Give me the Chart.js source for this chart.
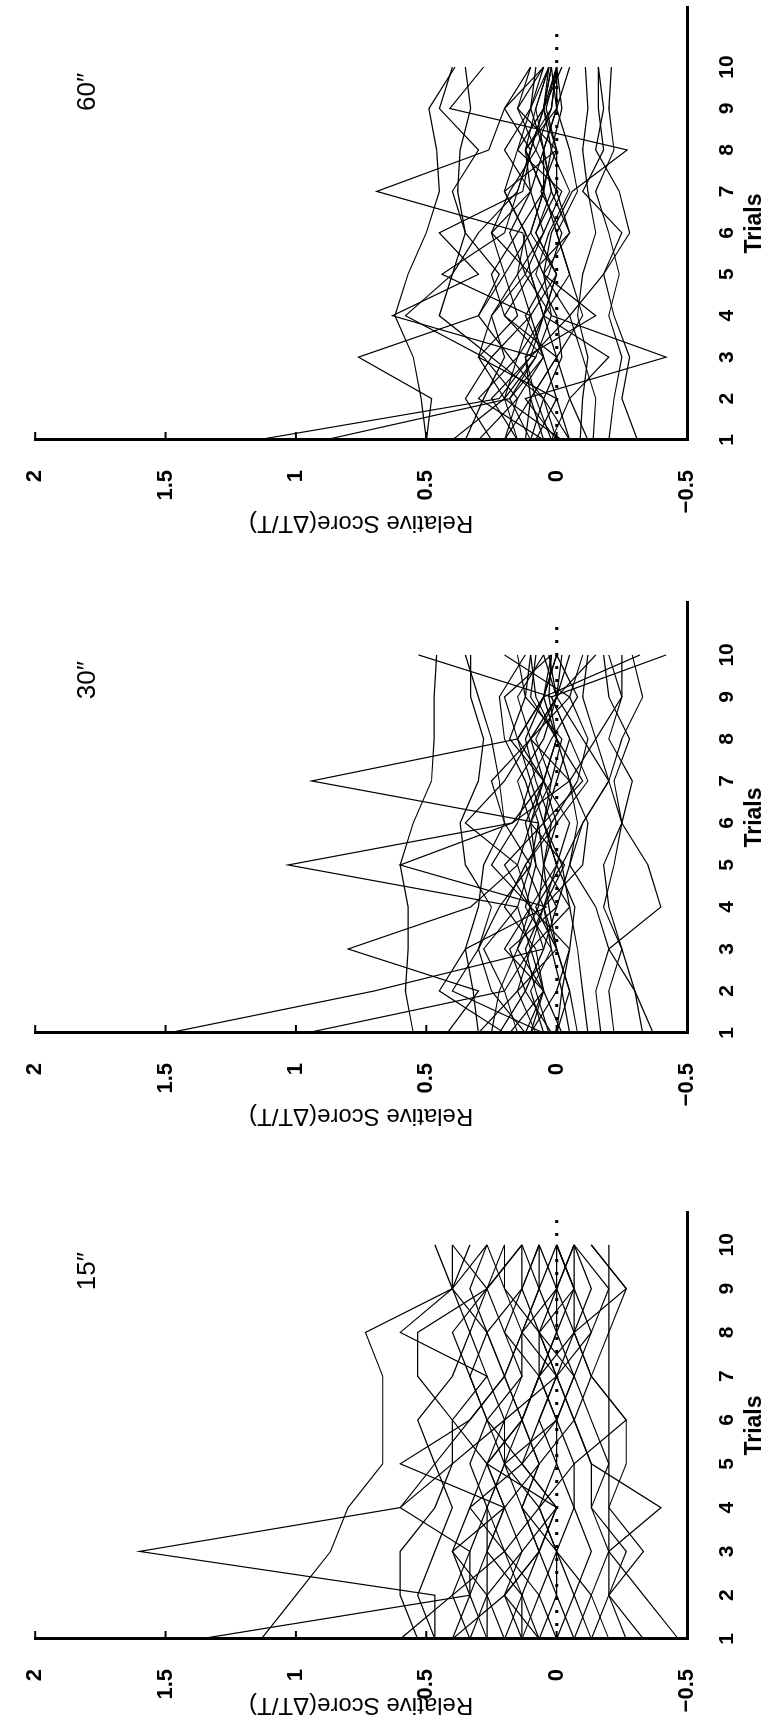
<!DOCTYPE html>
<html><head><meta charset="utf-8">
<script src="https://cdn.jsdelivr.net/npm/chart.js@4.4.1/dist/chart.umd.min.js"></script>
<style>
html,body{margin:0;padding:0;background:#fff;width:768px;height:1727px;overflow:hidden;}
#land{position:absolute;left:0;top:0;width:1727px;height:768px;transform-origin:0 0;transform:translate(0px,1727px) rotate(-90deg);background:#fff;}
#land canvas{position:absolute;top:0;}
</style></head><body>
<div id="land">
<canvas id="c15"></canvas><canvas id="c30"></canvas><canvas id="c60"></canvas>
</div>
<script>
// ---- data ----
const trials = [1,2,3,4,5,6,7,8,9,10];
const trialTicks = [1,2,3,4,5,6,7,8,9,10];
const scoreTicks = [-0.5,0,0.5,1,1.5,2];
const zeroLineTrials = [1,10.9];
const labelPos = [9.4,1.8];
const xTitle = 'Trials';
const yTitle = 'Relative Score(ΔT/T)';

const scores15 = [
 [0.467,0.467,1.6,0.6,0.467,0.333,0.2,0.133,0.067,0.0],
 [1.133,1.0,0.867,0.8,0.667,0.667,0.667,0.733,0.4,0.4],
 [1.37,0.333,0.267,0.2,0.267,0.133,0.067,0.0,-0.067,0.0],
 [0.6,0.4,0.333,0.6,0.4,0.2,0.0,0.067,0.2,0.267],
 [0.4,0.2,0.067,0.0,0.267,0.4,0.533,0.533,0.267,0.133],
 [0.333,0.267,0.133,0.2,0.6,0.333,0.2,0.267,0.4,0.467],
 [0.267,0.267,0.267,0.267,0.2,0.2,0.133,0.133,0.2,0.2],
 [0.2,0.133,0.2,0.333,0.133,0.067,0.0,0.133,0.0,-0.067],
 [0.133,0.133,0.067,0.133,0.067,0.133,0.067,0.0,0.067,0.067],
 [0.067,0.0,0.067,0.0,0.133,0.0,0.067,0.067,0.133,0.133],
 [0.0,0.067,0.0,0.067,0.0,0.067,0.0,0.067,0.0,0.0],
 [-0.067,0.0,0.0,-0.067,0.0,0.0,-0.067,0.0,0.0,0.067],
 [-0.2,-0.133,-0.2,-0.4,-0.133,-0.067,0.0,-0.133,-0.067,-0.067],
 [-0.267,-0.2,-0.2,-0.2,-0.267,-0.267,-0.133,-0.2,-0.267,-0.133],
 [-0.333,-0.2,-0.333,-0.2,-0.2,-0.2,-0.2,-0.2,-0.2,-0.2],
 [-0.467,-0.333,-0.2,-0.133,-0.133,-0.067,-0.133,-0.067,-0.067,0.0],
 [0.533,0.6,0.6,0.467,0.4,0.4,0.267,0.6,0.4,0.267],
 [0.4,0.333,0.333,0.267,0.333,0.267,0.333,0.4,0.267,0.4],
 [0.067,0.2,0.133,0.0,0.133,0.267,0.133,0.2,0.267,0.133],
 [0.133,0.067,0.2,0.067,0.2,0.0,-0.067,0.067,-0.067,0.0],
 [0.0,-0.067,0.0,0.133,0.067,-0.067,0.0,-0.067,0.0,-0.067],
 [0.2,0.267,0.4,0.2,0.267,0.133,0.2,0.267,0.133,0.067],
 [-0.133,-0.067,-0.133,-0.067,-0.067,-0.267,-0.133,-0.067,-0.267,-0.133],
 [0.333,0.4,0.2,0.267,0.2,0.267,0.333,0.267,0.333,0.267],
 [0.267,0.333,0.4,0.333,0.267,0.2,0.267,0.333,0.267,0.2],
 [-0.133,-0.2,-0.267,-0.133,-0.2,-0.133,-0.067,-0.133,-0.2,-0.067],
 [0.133,0.2,0.067,0.133,0.2,0.133,0.2,0.133,0.067,0.133],
 [0.467,0.533,0.467,0.4,0.467,0.533,0.4,0.333,0.4,0.333],
 [-0.067,-0.133,0.0,0.067,-0.067,0.0,0.067,-0.067,-0.133,-0.067],
 [0.067,0.133,0.267,0.2,0.067,0.133,0.067,0.2,0.133,0.067]
];

const scores30 = [
 [1.49,0.70,0.05,0.10,0.00,0.05,0.02,0.08,0.00,-0.05],
 [0.96,0.20,0.10,0.05,0.12,0.00,0.05,0.00,0.03,0.02],
 [0.42,0.30,0.80,0.33,0.15,0.10,0.05,0.15,0.05,0.00],
 [0.30,0.15,0.10,0.15,1.03,0.17,0.05,0.00,0.08,0.10],
 [0.20,0.45,0.35,0.04,0.60,0.17,-0.05,0.10,0.00,0.05],
 [0.10,0.05,0.15,0.07,0.05,0.07,0.94,0.15,0.05,0.02],
 [0.55,0.58,0.57,0.57,0.60,0.55,0.48,0.47,0.47,0.46],
 [0.05,0.40,0.30,0.25,0.35,0.37,0.30,0.28,0.33,0.33],
 [-0.17,-0.15,-0.20,-0.15,-0.05,-0.10,-0.20,-0.15,-0.10,-0.12],
 [-0.33,-0.30,-0.20,-0.40,-0.35,-0.25,-0.20,-0.25,-0.33,-0.29],
 [-0.37,-0.30,-0.25,-0.20,-0.18,-0.25,-0.29,-0.20,-0.25,-0.25],
 [0.00,-0.05,0.00,0.08,-0.02,0.05,-0.10,0.00,0.05,-0.32],
 [0.10,0.00,-0.05,0.10,0.20,0.05,0.00,-0.05,0.02,0.53],
 [0.15,0.20,0.28,0.15,0.10,0.20,0.25,0.10,0.15,0.05],
 [0.22,0.12,0.05,0.00,-0.05,-0.08,-0.05,-0.15,-0.25,-0.20],
 [0.05,0.10,0.02,0.12,0.08,0.12,0.05,0.18,0.12,0.10],
 [0.25,0.22,0.15,0.10,0.15,0.35,0.20,0.10,-0.05,0.20],
 [0.00,-0.02,-0.05,-0.07,0.00,0.05,0.10,0.02,-0.08,0.00],
 [-0.02,0.05,0.10,-0.05,0.05,0.00,-0.12,-0.05,0.02,-0.42],
 [0.08,0.15,0.00,0.05,0.00,-0.05,0.05,0.10,0.00,-0.02],
 [-0.05,-0.02,0.02,0.05,-0.10,-0.12,-0.05,0.00,0.10,0.08],
 [0.18,0.05,0.20,0.10,0.25,0.15,0.10,0.15,0.20,0.02],
 [-0.12,-0.10,-0.08,-0.05,-0.02,-0.10,-0.20,-0.10,0.00,-0.15],
 [0.12,0.25,0.30,0.22,0.10,0.07,0.12,0.20,0.22,0.12],
 [0.30,0.32,0.35,0.30,0.28,0.20,0.22,0.25,0.30,0.35],
 [-0.08,-0.05,0.00,0.03,0.05,0.02,-0.08,-0.12,-0.05,-0.10],
 [0.03,0.08,0.12,0.05,-0.03,0.10,0.15,0.05,0.00,0.03],
 [0.12,0.05,0.08,0.20,0.12,0.02,0.08,0.12,0.05,0.00],
 [-0.22,-0.20,-0.25,-0.18,-0.22,-0.25,-0.22,-0.28,-0.20,-0.18],
 [0.02,0.12,0.18,0.00,0.08,0.10,0.02,-0.02,0.12,0.15]
];

const scores60 = [
 [1.15,0.22,0.10,0.05,0.00,0.08,0.02,0.05,0.00,0.02],
 [0.89,0.18,0.05,0.12,0.03,-0.02,0.06,0.00,0.04,0.00],
 [0.50,0.52,0.55,0.62,0.57,0.50,0.45,0.46,0.49,0.39],
 [0.50,0.48,0.76,0.30,0.20,0.10,0.05,0.12,0.02,0.00],
 [0.40,0.20,0.08,0.63,0.30,0.45,0.13,0.10,0.05,0.02],
 [0.30,0.15,0.28,0.58,0.40,0.30,0.15,0.10,0.05,0.03],
 [0.20,0.10,0.00,0.05,0.10,0.13,0.69,0.26,0.20,0.05],
 [0.15,0.25,0.10,-0.05,0.05,0.02,-0.06,-0.27,0.41,0.28],
 [0.10,0.05,0.18,0.30,0.22,0.35,0.38,0.37,0.33,0.35],
 [0.05,0.30,0.15,0.10,0.44,0.20,0.15,0.10,0.20,0.10],
 [0.02,-0.05,-0.20,0.05,0.00,0.10,0.05,0.02,-0.02,0.00],
 [0.00,0.12,-0.42,0.02,0.05,-0.05,0.00,0.08,0.02,0.00],
 [-0.05,0.00,0.05,0.10,0.15,0.05,-0.02,0.15,0.05,0.02],
 [-0.09,-0.10,-0.12,-0.08,-0.10,-0.15,-0.12,-0.10,-0.12,-0.11],
 [-0.14,-0.15,-0.10,-0.05,-0.18,-0.25,-0.10,-0.18,-0.16,-0.16],
 [-0.20,-0.22,-0.25,-0.20,-0.24,-0.20,-0.15,-0.22,-0.20,-0.21],
 [-0.31,-0.25,-0.28,-0.22,-0.18,-0.28,-0.24,-0.15,-0.18,-0.16],
 [0.25,0.35,0.25,0.45,0.40,0.35,0.40,0.30,0.45,0.40],
 [0.00,0.05,0.25,0.10,0.00,0.08,0.00,0.00,0.15,0.05],
 [0.12,0.10,0.00,0.20,0.25,0.15,0.05,0.05,0.00,0.00],
 [0.05,0.10,0.12,-0.15,0.05,0.12,0.20,0.00,0.05,-0.02],
 [-0.02,0.20,0.15,0.05,-0.05,0.00,0.05,0.12,0.00,0.00],
 [0.35,0.28,0.20,0.25,0.12,0.05,0.10,0.05,0.08,0.03],
 [0.08,0.00,0.30,0.15,0.20,0.25,0.10,0.20,0.10,0.05],
 [0.15,0.20,0.30,0.25,0.15,0.12,0.20,0.15,0.10,0.08],
 [-0.05,0.05,-0.02,0.00,0.08,0.03,-0.05,0.02,0.05,0.00],
 [0.02,0.08,0.12,0.05,0.10,-0.05,0.02,0.05,0.10,0.03],
 [-0.12,-0.05,0.00,-0.10,-0.05,0.00,-0.08,-0.05,0.00,-0.05],
 [0.20,0.15,0.05,0.20,0.10,0.25,0.18,0.08,0.15,0.10],
 [0.10,0.18,0.08,0.02,0.12,0.18,0.10,0.12,0.08,0.03]
];

// ---- layout (landscape, later rotated -90deg) ----
const FONT = "'Liberation Sans', Arial, Helvetica, sans-serif";
const panels = [
 {id:'c15', text:'15″', data:scores15, left:5,    axisW:83,  plotW:427, xMax:10.75, right:15},
 {id:'c30', text:'30″', data:scores30, left:594,  axisW:100, plotW:431, xMax:11.26, right:15},
 {id:'c60', text:'60″', data:scores60, left:1187, axisW:100, plotW:433, xMax:11.45, right:7}
];
const H = 768, TOP = 25, XAXIS_H = 81;

const inwardTicks = {
 id:'inwardTicks',
 afterDraw(chart){
  const {ctx, chartArea, scales:{y}} = chart;
  ctx.save(); ctx.strokeStyle='#000'; ctx.lineWidth=2;
  y.ticks.forEach(t=>{ const py = y.getPixelForValue(t.value);
    ctx.beginPath(); ctx.moveTo(chartArea.left, py); ctx.lineTo(chartArea.left+8, py); ctx.stroke(); });
  ctx.restore();
 }
};
const panelText = {
 id:'panelText',
 afterDraw(chart, args, opts){
  const {ctx, scales:{x,y}} = chart;
  ctx.save(); ctx.fillStyle='#000'; ctx.font = '26px ' + FONT;
  ctx.textAlign='center'; ctx.textBaseline='middle';
  ctx.fillText(opts.text, x.getPixelForValue(labelPos[0]), y.getPixelForValue(labelPos[1]));
  ctx.restore();
 }
};

panels.forEach(P=>{
 const cv = document.getElementById(P.id);
 const W = P.axisW + P.plotW + P.right;
 cv.width = W; cv.height = H; cv.style.left = P.left + 'px'; cv.style.width = W+'px'; cv.style.height = H+'px';
 const datasets = P.data.map(s=>({
   data: s.map((v,i)=>({x:trials[i], y:v})),
   borderColor:'#000', borderWidth:1.2, pointRadius:0, fill:false, tension:0
 }));
 datasets.push({
   data: zeroLineTrials.map(t=>({x:t, y:0})),
   borderColor:'#000', borderWidth:3, borderDash:[3,10], pointRadius:0, fill:false, tension:0
 });
 new Chart(cv, {
  type:'line',
  data:{datasets},
  options:{
   responsive:false, animation:false, devicePixelRatio:1,
   layout:{padding:{top:TOP, right:P.right, bottom:0, left:0}},
   plugins:{legend:{display:false}, tooltip:{enabled:false}, panelText:{text:P.text}},
   scales:{
    x:{type:'linear', min:1, max:P.xMax,
       afterBuildTicks:a=>{a.ticks = trialTicks.map(v=>({value:v}));},
       afterFit:s=>{s.height = XAXIS_H;},
       grid:{display:false}, border:{display:true, color:'#000', width:3},
       ticks:{color:'#000', font:{family:FONT, size:21, weight:'bold'}, padding:20, maxRotation:0, autoSkip:false, callback:v=>String(v)},
       title:{display:true, text:xTitle, color:'#000', font:{family:FONT, size:23, weight:'bold'}, padding:{top:0,bottom:0}}},
    y:{type:'linear', min:-0.5, max:2,
       afterBuildTicks:a=>{a.ticks = scoreTicks.map(v=>({value:v}));},
       afterFit:s=>{s.width = P.axisW;},
       grid:{display:false}, border:{display:true, color:'#000', width:3},
       ticks:{color:'#000', font:{family:FONT, size:22, weight:'bold'}, padding:22, autoSkip:false,
              callback:v=> v<0 ? '−'+String(Math.abs(v)) : String(v)},
       title:{display:true, text:yTitle, color:'#000', font:{family:FONT, size:24}, padding:{top:3,bottom:3}}}
   }
  },
  plugins:[inwardTicks, panelText]
 });
});
</script>
</body></html>
